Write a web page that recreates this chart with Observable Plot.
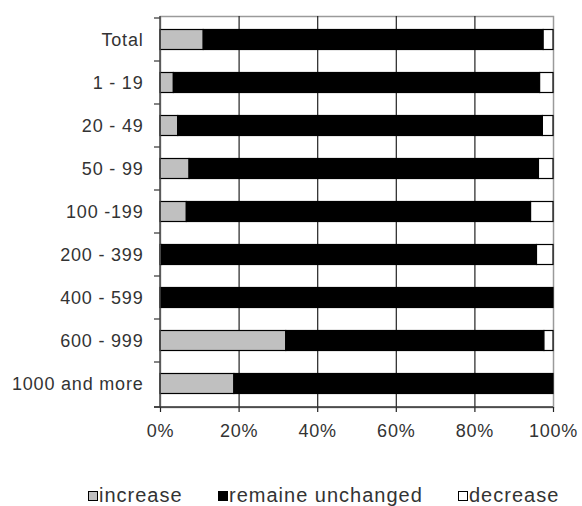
<!DOCTYPE html>
<html>
<head>
<meta charset="utf-8">
<script src="https://cdn.jsdelivr.net/npm/d3@7"></script>
<script src="https://cdn.jsdelivr.net/npm/@observablehq/plot@0.6"></script>
<style>
  body { margin: 0; background: #fff; font-family: "Liberation Sans", Arial, sans-serif; }
  #wrap { position: relative; width: 582px; height: 506px; }
  .legend { position: absolute; top: 484px; left: 0; width: 582px; height: 22px; font-size: 20px; letter-spacing: 1px; color: #333; }
  .item { position: absolute; top: 0; white-space: nowrap; line-height: 22px; }
  .sw { display: inline-block; width: 8px; height: 8px; border: 1.5px solid #000; margin-right: 1px; vertical-align: 1px; }
</style>
</head>
<body>
<div id="wrap">
  <div id="chart"></div>
  <div class="legend" id="legend"></div>
</div>
<script>
const categories = ["Total", "1 - 19", "20 - 49", "50 - 99", "100 -199", "200 - 399", "400 - 599", "600 - 999", "1000 and more"];
const seriesNames = ["increase", "remaine unchanged", "decrease"];
const seriesColors = ["#c0c0c0", "#000000", "#ffffff"];
const increase  = [11.0, 3.4, 4.5, 7.4, 6.7, 0.4, 0, 32.0, 18.8];
const unchanged = [86.5, 93.2, 92.8, 88.9, 87.6, 95.4, 100, 65.7, 81.2];
const decrease  = [2.5, 3.4, 2.7, 3.7, 5.7, 4.2, 0, 2.3, 0];
const xTicks = [0, 20, 40, 60, 80, 100];
const gridTicks = [20, 40, 60, 80];

const seriesValues = [increase, unchanged, decrease];
const data = [];
categories.forEach((c, i) => {
  seriesNames.forEach((s, j) => {
    data.push({cat: c, series: s, value: seriesValues[j][i]});
  });
});

const W = 582, H = 460, ML = 160, MR = 29, MT = 16, MB = 53;

const axesLines = (index, scales, values, dims) => {
  const g = d3.create("svg:g");
  const x0 = dims.marginLeft;
  const x1 = dims.width - dims.marginRight;
  const yb = dims.height - dims.marginBottom;
  const ys = categories.map(c => scales.y(c)).concat([yb]);
  g.selectAll("line.t").data(ys).join("line")
    .attr("x1", x0 - 6).attr("x2", x0).attr("y1", d => d).attr("y2", d => d)
    .attr("stroke", "#333").attr("stroke-width", 1.2);
  g.append("line").attr("x1", x0).attr("x2", x0)
    .attr("y1", dims.marginTop).attr("y2", yb)
    .attr("stroke", "#444").attr("stroke-width", 1.5);
  g.append("line").attr("x1", x0 - 6).attr("x2", x1)
    .attr("y1", yb).attr("y2", yb)
    .attr("stroke", "#333").attr("stroke-width", 1.5);
  return g.node();
};

const chart = Plot.plot({
  width: W,
  height: H,
  marginLeft: ML,
  marginRight: MR,
  marginTop: MT,
  marginBottom: MB,
  style: {fontFamily: "'Liberation Sans', Arial, sans-serif", fontSize: "18px", color: "#333", letterSpacing: "0.8px", background: "#fff"},
  x: {domain: [0, 100], ticks: xTicks, tickFormat: d => d + "%"},
  y: {domain: categories, padding: 0},
  color: {domain: seriesNames, range: seriesColors},
  marks: [
    Plot.frame({stroke: "#9a9a9a", strokeWidth: 1.5}),
    Plot.ruleX(gridTicks, {stroke: "#222", strokeWidth: 1.2}),
    Plot.barX(data.filter(d => d.value > 0), {
      x: "value", y: "cat", fill: "series", z: "series",
      order: seriesNames,
      stroke: "#000", strokeWidth: 1.2,
      insetTop: 11.5, insetBottom: 11.5
    }),
    Plot.axisX({ticks: xTicks, tickFormat: d => d + "%", tickSize: 5, tickPadding: 12, stroke: "#222", strokeWidth: 1.2, label: null}),
    Plot.axisY({tickSize: 0, tickPadding: 17, label: null}),
    axesLines
  ]
});
document.getElementById("chart").appendChild(chart);

const legendLefts = [88, 218, 458];
const legend = document.getElementById("legend");
seriesNames.forEach((s, j) => {
  const it = document.createElement("span");
  it.className = "item";
  it.style.left = legendLefts[j] + "px";
  const sw = document.createElement("span");
  sw.className = "sw";
  sw.style.background = seriesColors[j];
  it.appendChild(sw);
  it.appendChild(document.createTextNode(s));
  legend.appendChild(it);
});
</script>
</body>
</html>
